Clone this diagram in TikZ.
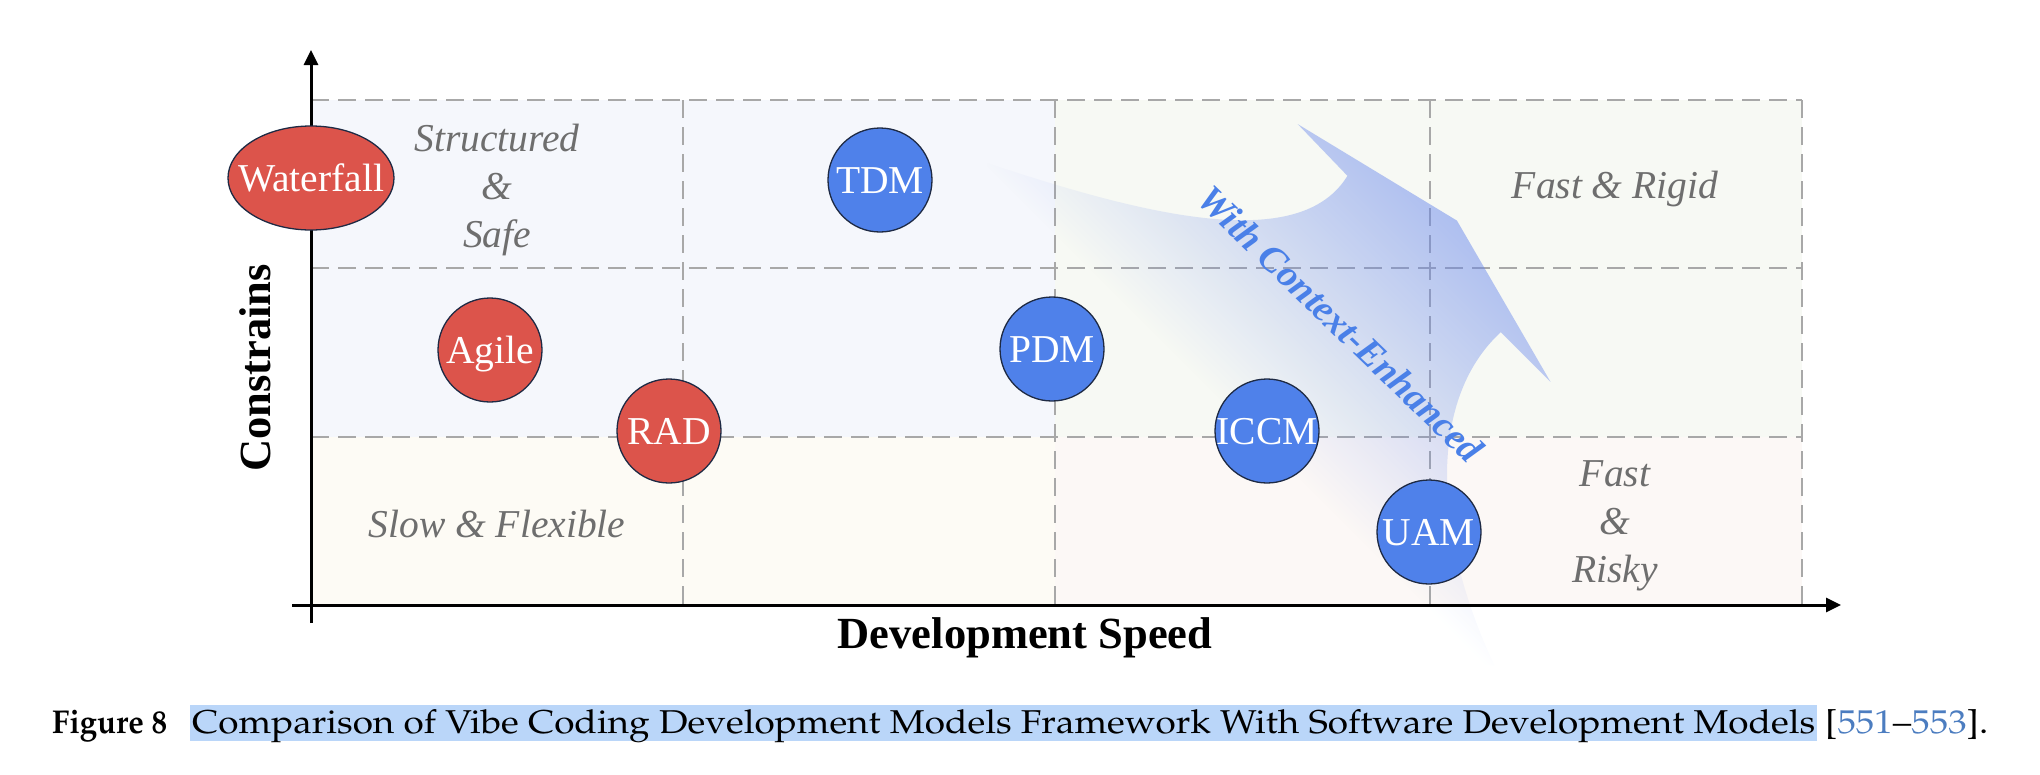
\documentclass[tikz,border=0pt]{standalone}
\usepackage[T1]{fontenc}
\usepackage{fontspec}
\setmainfont{Liberation Serif}
\usetikzlibrary{shapes.geometric,arrows.meta,fadings}
\newcommand\pala{\fontencoding{T1}\fontfamily{ppl}\selectfont}
\newcommand\zclap[1]{\hbox to 0pt{\hss#1\hss}}
\definecolor{nodered}{HTML}{DC544B}
\definecolor{nodeblue}{HTML}{4F81EA}
\definecolor{nodeline}{HTML}{1E2A44}
\definecolor{gridgray}{HTML}{A8A8A8}
\definecolor{quadgray}{HTML}{6E6E6E}
\definecolor{cellTL}{HTML}{F5F7FC}
\definecolor{cellTR}{HTML}{F7F9F4}
\definecolor{cellBL}{HTML}{FDFBF5}
\definecolor{cellBR}{HTML}{FCF8F6}
\definecolor{arrowblue}{HTML}{6585EC}
\definecolor{textblue}{HTML}{4A80E8}
\definecolor{hlblue}{HTML}{BAD6F9}
\definecolor{citeblue}{HTML}{4C7DC0}
\tikzfading[name=swoosh, left color=transparent!100, right color=transparent!0]
\begin{document}
\begin{tikzpicture}[x=1pt,y=-1pt,
  model/.style={ellipse, draw=nodeline, line width=1.3pt, minimum width=104pt, minimum height=104pt, inner sep=0pt, text=white, text height=27pt, text depth=0pt, font=\fontsize{39.5}{47}\selectfont},
  redmodel/.style={model, fill=nodered},
  bluemodel/.style={model, fill=nodeblue},
  quad/.style={text=quadgray, font=\itshape\fontsize{39.5}{48}\selectfont, align=center, inner sep=0pt},
  gridline/.style={gridgray, line width=2.2pt, dash pattern=on 18pt off 9pt},
  axisline/.style={line width=3pt, -{Triangle[length=15pt,width=14pt]}},
  axislabel/.style={font=\bfseries\fontsize{44.5}{50}\selectfont, inner sep=0pt},
  captext/.style={anchor=base west, inner sep=0pt, font=\pala\fontsize{33}{40}\selectfont}
]
\useasboundingbox (0,0) rectangle (2040,774);
% cells
\fill[cellTL] (311,100) rectangle (1055,437);
\fill[cellTR] (1055,100) rectangle (1802,437);
\fill[cellBL] (311,437) rectangle (1055,605);
\fill[cellBR] (1055,437) rectangle (1802,605);
% grid
\foreach \yy in {100,268,437} \draw[gridline] (311,\yy) -- (1802,\yy);
\foreach \xx in {683,1055,1430,1802} \draw[gridline] (\xx,100) -- (\xx,605);
% swoosh arrow
\fill[arrowblue, fill opacity=0.5, path fading=swoosh, fit fading=false,
      fading transform={shift={(1341,311)}, rotate=45, xscale=5.92, yscale=9}]
  (985,160) .. controls (1150,215) and (1300,250) .. (1347,173)
  -- (1297,121) -- (1457,218) -- (1551,380) -- (1501,330)
  .. controls (1425,400) and (1435,540) .. (1495,665)
  .. controls (1250,640) and (1000,420) .. (985,160) -- cycle;
% axes
\coordinate (yfoot) at (311,623);
\coordinate (ytop) at (311,50);
\coordinate (xfoot) at (292,605);
\coordinate (xend) at (1841,605);
\draw[axisline] (yfoot) -- (ytop);
\draw[axisline] (xfoot) -- (xend);
% models
\node[redmodel, minimum width=166pt] (waterfall) at (311,178) {\zclap{Waterfall}};
\node[redmodel] (agile) at (490,350) {\zclap{Agile}};
\node[redmodel] (rad) at (669,431) {\zclap{RAD}};
\node[bluemodel] (tdm) at (880,180) {\zclap{TDM}};
\node[bluemodel] (pdm) at (1052,349) {\zclap{PDM}};
\node[bluemodel] (iccm) at (1267,431) {\zclap{ICCM}};
\node[bluemodel] (uam) at (1429,532) {\zclap{UAM}};
% quadrant labels
\node[quad] (ss) at (497,190) {Structured\\\&\\Safe};
\node[quad, anchor=base] (fr) at (1615,198) {Fast \& Rigid};
\node[quad, anchor=base] (sf) at (497,537) {Slow \& Flexible};
\node[quad] (fk) at (1615,526) {Fast\\\&\\Risky};
% axis labels
\node[axislabel, rotate=90] (ylab) at (255,368) {Constrains};
\node[axislabel, anchor=base] (xlab) at (1025,648) {Development Speed};
\node[font=\bfseries\itshape\fontsize{38}{45}\selectfont, text=textblue, rotate=-44, inner sep=0pt] (ctx) at (1341,324) {With Context-Enhanced};
% caption
\node[captext] (fig) at (52,733) {\resizebox{115pt}{\height}{\bfseries Figure 8}};
\node[captext, fill=hlblue, inner xsep=2pt, text height=28.5pt, text depth=7.5pt] (cap) at (190,733) {\resizebox{1623pt}{\height}{Comparison of Vibe Coding Development Models Framework With Software Development Models}};
\node[captext] (cite) at (1825,733) {\resizebox{163pt}{\height}{[\textcolor{citeblue}{551}--\textcolor{citeblue}{553}].}};
\end{tikzpicture}
\end{document}
